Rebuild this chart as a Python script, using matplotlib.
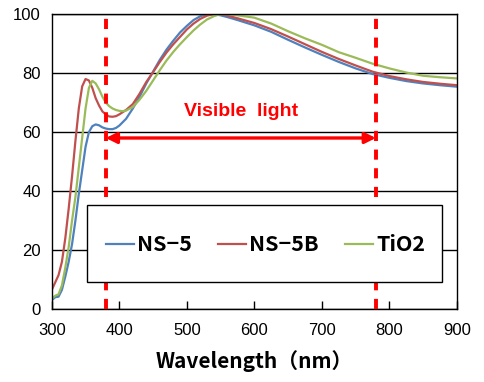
import matplotlib
matplotlib.use("Agg")
from matplotlib import pyplot as plt
from matplotlib.patches import Rectangle

# wavelength (nm) and normalised values
wl_ns5 = [300, 305, 310, 315, 320, 325, 330, 335, 340, 345, 350, 355, 360, 365,
          370, 375, 380, 385, 390, 395, 400, 410, 420, 430, 440, 450, 460, 470,
          480, 490, 500, 510, 520, 530, 540, 550, 560, 575, 600, 625, 650, 675,
          700, 725, 750, 775, 800, 825, 850, 875, 900]
ns5 = [3, 4, 4.2, 6.5, 11, 16, 22, 30, 39, 47, 55, 60, 62, 62.6,
       62.3, 61.6, 61.2, 61, 61, 61.4, 62.2, 64.5, 68, 72, 76.5, 80.5, 84.5, 88,
       91, 93.8, 96, 98, 99.3, 100, 100, 99.6, 99, 98, 96.2, 94, 91.3, 88.7,
       86.2, 83.8, 81.6, 79.7, 78.4, 77.3, 76.5, 75.9, 75.4]

wl_ns5b = [300, 305, 310, 315, 320, 325, 330, 335, 340, 345, 350, 355, 360, 365,
           370, 375, 380, 385, 390, 395, 400, 410, 420, 430, 440, 450, 460, 470,
           480, 490, 500, 510, 520, 530, 540, 550, 560, 575, 600, 625, 650, 675,
           700, 725, 750, 775, 800, 825, 850, 875, 900]
ns5b = [6.5, 9, 11.5, 16, 24, 34, 45, 57, 68, 75.5, 78, 77.5, 75, 71.5,
        69, 67, 66, 65.3, 65.2, 65.4, 66, 67.5, 69.5, 73, 77, 80.3, 83.8, 87,
        89.8, 92.3, 94.8, 96.8, 98.4, 99.5, 100, 100, 99.5, 98.6, 97, 94.9, 92.4, 89.8,
        87.2, 84.8, 82.6, 80.5, 79, 77.9, 77, 76.4, 75.9]

wl_tio2 = [300, 305, 310, 315, 320, 325, 330, 335, 340, 345, 350, 355, 360, 365,
           370, 375, 380, 385, 390, 395, 400, 405, 410, 420, 430, 440, 450, 460,
           470, 480, 490, 500, 510, 520, 530, 540, 550, 560, 575, 600, 625, 650,
           675, 700, 725, 750, 775, 800, 825, 850, 875, 900]
tio2 = [3.5, 4.5, 5, 8, 14, 21, 30, 38, 48, 58, 68, 75, 77.4, 76.5,
        74.5, 72, 70, 68.8, 68, 67.5, 67.2, 67.1, 67.3, 68.5, 71, 74, 77.5, 81,
        84.3, 87.2, 89.8, 92.2, 94.5, 96.5, 98.2, 99.3, 100, 100, 99.6, 98.8, 96.8, 94.2,
        91.8, 89.6, 87.1, 85.2, 83.2, 81.6, 80.2, 79.1, 78.6, 78.2]

labels = ["NS\u22125", "NS\u22125B", "TiO2"]
colors = ["#4F81BD", "#C0504D", "#9BBB59"]

vis_start, vis_end = 380, 780
arrow_y = 58

fig = plt.figure(figsize=(4.84, 3.82), dpi=100)
ax = fig.add_axes([0.107, 0.191, 0.837, 0.772])

ax.plot(wl_ns5, ns5, color=colors[0], lw=1.6, label=labels[0])
ax.plot(wl_ns5b, ns5b, color=colors[1], lw=1.6, label=labels[1])
ax.plot(wl_tio2, tio2, color=colors[2], lw=1.6, label=labels[2])

# visible range markers
for xv in (vis_start, vis_end):
    ax.axvline(xv, color="#FF0000", lw=2.8, ls=(0, (2.6, 2.2)), zorder=4)
ax.annotate("", xy=(vis_end, arrow_y), xytext=(vis_start, arrow_y),
            arrowprops=dict(arrowstyle="<|-|>", color="#FF0000", lw=2.4,
                            mutation_scale=16, shrinkA=0, shrinkB=0), zorder=5)
ax.text(580, 67, "Visible  light", color="#FF0000", fontsize=14,
        fontweight="bold", ha="center", va="center", family="Liberation Sans")

ax.set_xlim(300, 900)
ax.set_ylim(0, 100)
ax.set_xticks(range(300, 901, 100))
ax.set_yticks(range(0, 101, 20))
ax.yaxis.grid(True, color="black", lw=1)
ax.tick_params(axis="x", direction="in", length=6, width=1, pad=10)
ax.tick_params(axis="y", length=0, pad=8)
for lab in ax.get_xticklabels() + ax.get_yticklabels():
    lab.set_fontsize(12)
    lab.set_family("Liberation Sans")
for sp in ax.spines.values():
    sp.set_color("black")
    sp.set_linewidth(1)

ax.set_xlabel("Wavelength（nm）", fontsize=15, fontweight="bold",
              family=["Noto Sans CJK JP", "DejaVu Sans"], labelpad=9)

# legend box
ax.add_patch(Rectangle((0.0864, 0.092), 0.877, 0.261, transform=ax.transAxes,
                       facecolor="white", edgecolor="black", lw=1, zorder=6))
leg = ax.legend(loc="center", bbox_to_anchor=(0.528, 0.218), ncol=3,
                frameon=False, handlelength=1.3, handletextpad=0.15,
                columnspacing=1.2, prop=dict(size=15.5, weight="bold",
                family=["Noto Sans CJK JP", "DejaVu Sans"]))
leg.set_zorder(7)

fig.savefig("out.png", dpi=100)
